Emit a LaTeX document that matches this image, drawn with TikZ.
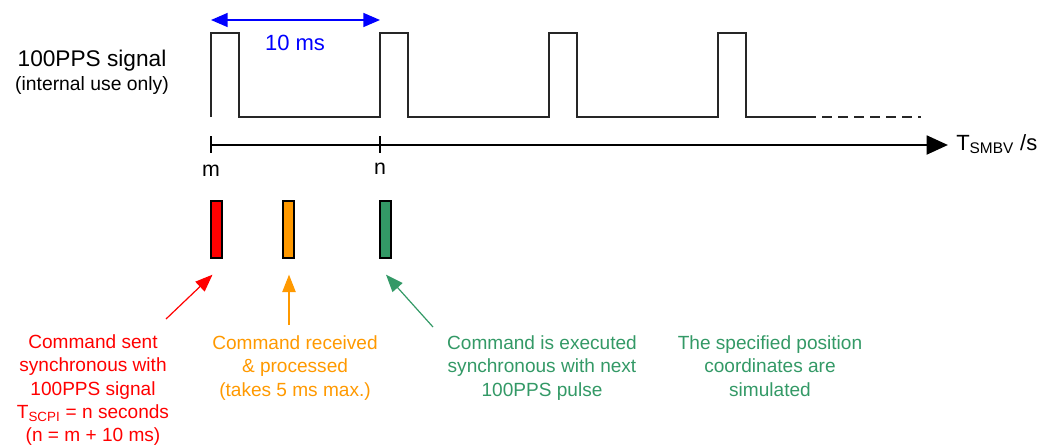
\documentclass[tikz,border=0pt]{standalone}
\usepackage{fontspec}
\setmainfont{Liberation Sans}
\usetikzlibrary{arrows.meta,calc}
\definecolor{cred}{RGB}{255,0,0}
\definecolor{corange}{RGB}{255,153,0}
\definecolor{cgreen}{RGB}{51,153,102}
\definecolor{cblue}{RGB}{0,0,255}
\begin{document}
\begin{tikzpicture}[x=0.75pt,y=-0.75pt,
  sig/.style={line width=1.1pt, draw=black!85},
  axisline/.style={line width=2.2pt, -{Triangle[length=16pt,width=14pt]}},
  tick/.style={line width=1.5pt},
  bar/.style={draw=black, line width=1pt, minimum width=8.25pt, minimum height=42.75pt, inner sep=0pt},
  note/.style={align=center, inner sep=0pt, anchor=north, font=\fontsize{14.3}{17.6}\selectfont},
  pointer/.style={line width=0.9pt, -{Triangle[length=13pt,width=10pt]}},
  lbl/.style={font=\fontsize{16}{19}\selectfont, inner sep=0pt}
]
\useasboundingbox (0,0) rectangle (1044,447);

% signal
\draw[sig] (211,117) -- (211,33) -- (239,33) -- (239,117) -- (380,117) -- (380,33) -- (408,33) -- (408,117)
  -- (549,117) -- (549,33) -- (577,33) -- (577,117) -- (718,117) -- (718,33) -- (746,33) -- (746,117) -- (806,117);
\draw[sig, dash pattern=on 7.5pt off 4.5pt] (806,117) -- (921,117);

% period arrow
\coordinate (pA) at (211,20);
\coordinate (pB) at (380,20);
\draw[cblue, line width=1.1pt, {Triangle[length=12.5pt,width=10.5pt]}-{Triangle[length=12.5pt,width=10.5pt]}] (pA) -- (pB);
\node[lbl, text=cblue, font=\fontsize{16.5}{19}\selectfont] (tenms) at (295,43) {10 ms};

% left label
\node[inner sep=0pt, font=\fontsize{17}{20}\selectfont] (sigl) at (92,61) {100PPS signal};
\node[inner sep=0pt, font=\fontsize{14.5}{18}\selectfont] (sigl2) at (92,85) {(internal use only)};

% time axis
\coordinate (ax0) at (211,145);
\coordinate (ax1) at (948,145);
\draw[axisline] (ax0) -- (ax1);
\draw[tick] (211,136) -- (211,153);
\draw[tick] (380,136) -- (380,153);
\node[lbl, anchor=west, font=\fontsize{16.5}{19}\selectfont] (tsmbv) at (956,144) {T\textsubscript{SMBV} /s};
\node[lbl] (m) at (211,171) {m};
\node[lbl] (n) at (380,169) {n};

% bars
\node[bar, fill=cred] (rb) at (216.5,229.5) {};
\node[bar, fill=corange] (ob) at (288.5,229.5) {};
\node[bar, fill=cgreen] (gb) at (385.5,229.5) {};

% notes
\node[note, text=cred] (rt) at (93,334) {Command sent\\synchronous with\\100PPS signal\\T\textsubscript{SCPI} = n seconds\\(n = m + 10 ms)};
\node[note, text=corange] (ot) at (295,335) {Command received\\\& processed\\(takes 5 ms max.)};
\node[note, text=cgreen] (gt) at (542,335) {Command is executed\\synchronous with next\\100PPS pulse};
\node[note, text=cgreen] (st) at (770,335) {The specified position\\coordinates are\\simulated};

% pointers
\coordinate (rs) at (166,319);
\coordinate (re) at ($(rb.south)+(-4,16)$);
\coordinate (os) at (289,325);
\coordinate (oe) at ($(ob.south)+(0.5,16)$);
\coordinate (gs) at (433,327);
\coordinate (ge) at ($(gb.south)+(0.5,16)$);
\draw[pointer, cred] (rs) -- (re);
\draw[pointer, corange] (os) -- (oe);
\draw[pointer, cgreen] (gs) -- (ge);
\end{tikzpicture}
\end{document}
